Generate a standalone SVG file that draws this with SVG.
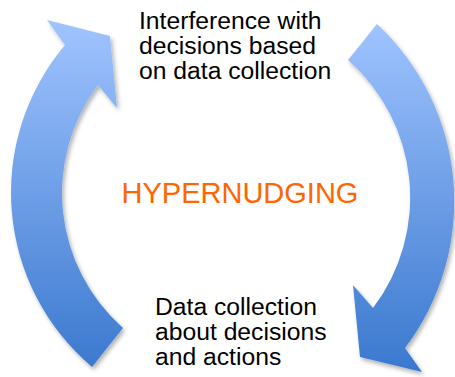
<svg xmlns="http://www.w3.org/2000/svg" width="455" height="377" viewBox="0 0 455 377">
<style>
  .lbl { font-family: "Liberation Sans", Arial, sans-serif; font-size: 24.7px; fill: #000000; }
  .title { font-family: "Liberation Sans", Arial, sans-serif; font-size: 29px; fill: #FF6600; }
  .arrow { fill: url(#blueGrad); filter: url(#shadow); }
</style>
<defs>
  <linearGradient id="blueGrad" gradientUnits="userSpaceOnUse" x1="0" y1="20" x2="0" y2="372">
    <stop offset="0" stop-color="#A0C4FF"/>
    <stop offset="1" stop-color="#3A78CE"/>
  </linearGradient>
  <filter id="shadow" x="-20%" y="-20%" width="140%" height="140%">
    <feDropShadow dx="2" dy="3" stdDeviation="2" flood-color="#000000" flood-opacity="0.3"/>
  </filter>
</defs>
<rect width="455" height="377" fill="#FFFFFF"/>
<g id="connectors">
  <path id="arrow-left" class="arrow" d="M 92 367 A 228.5 228.5 0 0 1 65 45 L 47 20 L 110 36 L 117 108 L 98 85 A 180 180 0 0 0 123 328 Z"/>
  <path id="arrow-right" class="arrow" d="M 377 24 A 242.5 242.5 0 0 1 405 348 L 422 372 L 360 357 L 353 285 L 373 308 A 183 183 0 0 0 348 60 Z"/>
</g>
<g id="node-interference">
  <text class="lbl" x="139" y="29"><tspan x="139" y="29">Interference with</tspan><tspan x="139" y="54">decisions based</tspan><tspan x="139" y="79">on data collection</tspan></text>
</g>
<g id="node-hypernudging">
  <text class="title" x="240" y="203" text-anchor="middle">HYPERNUDGING</text>
</g>
<g id="node-data-collection">
  <text class="lbl" x="155" y="315"><tspan x="155" y="315">Data collection</tspan><tspan x="155" y="340">about decisions</tspan><tspan x="155" y="365">and actions</tspan></text>
</g>
</svg>
